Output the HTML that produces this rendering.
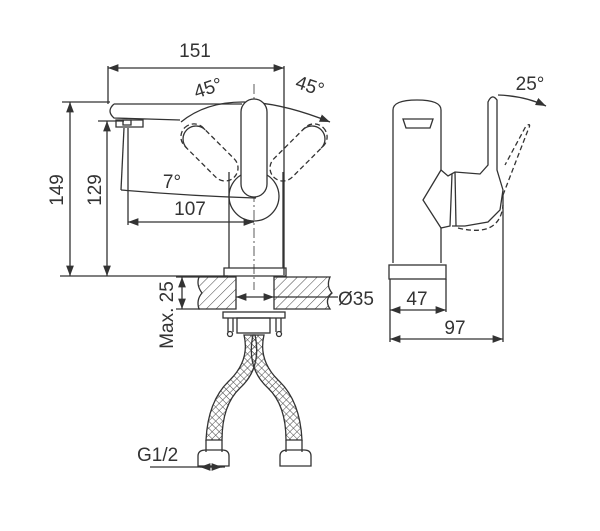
<!DOCTYPE html>
<html><head><style>
html,body{margin:0;padding:0;background:#fff;width:600px;height:531px;overflow:hidden}
svg text{font-family:"Liberation Sans",sans-serif;fill:#333}
</style></head><body>
<svg width="600" height="531" viewBox="0 0 600 531" xmlns="http://www.w3.org/2000/svg">
<defs>
<pattern id="h" width="7" height="7" patternUnits="userSpaceOnUse" patternTransform="rotate(45)"><line x1="0" y1="0" x2="0" y2="7" stroke="#444" stroke-width="1"/></pattern>
<pattern id="x" width="5" height="5" patternUnits="userSpaceOnUse" patternTransform="rotate(45)"><path d="M0 0H5M0 0V5" stroke="#444" stroke-width="1"/></pattern>
<marker id="a" markerWidth="8" markerHeight="6" refX="8" refY="3" orient="auto-start-reverse"><path d="M0 0L8 3L0 6" fill="#333"/></marker>
</defs>
<g fill="none" stroke="#333" stroke-width="1.3">
<line x1="108" y1="68" x2="284" y2="68" marker-start="url(#a)" marker-end="url(#a)"/>
<line x1="108" y1="66" x2="108" y2="104"/><line x1="284" y1="66" x2="284" y2="275"/>
<line x1="62" y1="102" x2="110" y2="102"/><line x1="60" y1="276" x2="228" y2="276"/>
<line x1="70" y1="102" x2="70" y2="276" marker-start="url(#a)" marker-end="url(#a)"/>
<line x1="98" y1="121" x2="124" y2="121"/>
<line x1="107" y1="121" x2="107" y2="276" marker-start="url(#a)" marker-end="url(#a)"/>
<line x1="128" y1="128" x2="128" y2="225"/>
<line x1="128" y1="222" x2="254" y2="222" marker-start="url(#a)" marker-end="url(#a)"/>
<line x1="124" y1="128" x2="121" y2="190"/>
<path d="M121 190 Q190 196 256 198"/>
<line x1="254" y1="84" x2="254" y2="290" stroke-dasharray="10 3 2 3" stroke-width="0.8"/>
<path d="M181 122 Q230 82 330 122" marker-end="url(#a)"/>
<path d="M114 104 H242 M114 104 Q106 111 114 118 L180 120 M116 120 H143 V127 H116Z"/>
<path d="M123 120 h8 v5 h-8z"/>
<rect x="241" y="99" width="26" height="98" rx="13" fill="#fff"/>
<g transform="rotate(-45 254 197)"><rect x="241" y="99" width="26" height="70" rx="13" stroke-dasharray="5 3"/><path d="M241 115 A13 13 0 0 1 267 115"/></g>
<g transform="rotate(45 254 197)"><rect x="241" y="99" width="26" height="70" rx="13" stroke-dasharray="5 3"/><path d="M241 115 A13 13 0 0 1 267 115"/></g>
<path d="M229 196 A25 25 0 1 0 279 196 A25 25 0 0 0 267 175 M241 175 A25 25 0 0 0 229 196"/>
<path d="M229 172 V268 M283 172 V268 M224 268 H286 V276 H224Z"/>
<path d="M199 277 H236 V309 H199 Q196 300 202 293 Q196 285 199 277Z" fill="url(#h)"/>
<path d="M274 277 H330 Q326 286 332 293 Q324 300 330 309 H274Z" fill="url(#h)"/>
<line x1="176" y1="277" x2="200" y2="277"/><line x1="176" y1="309" x2="200" y2="309"/>
<line x1="182" y1="277" x2="182" y2="309" marker-start="url(#a)" marker-end="url(#a)"/>
<line x1="236" y1="297" x2="274" y2="297" marker-start="url(#a)" marker-end="url(#a)"/>
<line x1="274" y1="297" x2="338" y2="297"/>
<rect x="223" y="312" width="62" height="6"/>
<rect x="237" y="318" width="33" height="15"/>
<path d="M228 318 V332 M233 318 V332 M276 318 V332 M281 318 V332"/>
<circle cx="230" cy="334" r="2.5"/><circle cx="279" cy="334" r="2.5"/>
<path d="M244 335 Q250 360 230 380 Q208 400 206 440 L222 440 Q222 405 240 388 Q262 368 255 335Z" fill="url(#x)"/>
<path d="M264 335 Q258 360 278 380 Q300 400 302 440 L286 440 Q286 405 268 388 Q246 368 253 335Z" fill="url(#x)"/>
<path d="M206 440 V452 M222 440 V452 M286 440 V452 M302 440 V452"/>
<path d="M198 456 Q198 450 206 450 H222 Q229 450 229 456 V466 H198Z"/>
<path d="M280 456 Q280 450 288 450 H304 Q311 450 311 456 V466 H280Z"/>
<line x1="150" y1="467" x2="225" y2="467"/>
<line x1="200" y1="467" x2="222" y2="467" marker-start="url(#a)" marker-end="url(#a)"/>
<path d="M393 263 V110 Q393 100 417 100 Q441 100 441 110 V170 M441 228 V263"/>
<path d="M403 119 H433 L430 128 H406Z"/>
<rect x="389" y="265" width="57" height="14"/>
<path d="M441 170 L448 176 L455 172 L480 174 L488 165 V102 Q492 93 497 100 V170 L503 190 L500 210 L488 222 L465 226 L452 226"/>
<path d="M441 170 L423 200 L441 228 L450 226 L452 174"/>
<path d="M455 172 L456 226"/>
<g stroke-dasharray="5 3"><path d="M503 195 L528 130 Q532 122 526 126 L505 165 M458 228 Q500 238 503 205"/></g>
<path d="M498 95 Q525 96 546 106" marker-end="url(#a)"/>
<line x1="503" y1="195" x2="503" y2="342"/>
<line x1="390" y1="279" x2="390" y2="342"/>
<line x1="446" y1="279" x2="446" y2="312"/>
<line x1="390" y1="310" x2="446" y2="310" marker-start="url(#a)" marker-end="url(#a)"/>
<line x1="390" y1="339" x2="503" y2="339" marker-start="url(#a)" marker-end="url(#a)"/>
</g>
<g font-size="19">
<text x="195" y="57" text-anchor="middle">151</text>
<text x="210" y="94" text-anchor="middle" transform="rotate(-18 210 94)">45°</text>
<text x="308" y="92" text-anchor="middle" transform="rotate(18 308 92)">45°</text>
<text x="172" y="188" text-anchor="middle">7°</text>
<text x="190" y="215" text-anchor="middle">107</text>
<text x="63" y="190" text-anchor="middle" transform="rotate(-90 63 190)">149</text>
<text x="101" y="190" text-anchor="middle" transform="rotate(-90 101 190)">129</text>
<text x="173" y="315" text-anchor="middle" transform="rotate(-90 173 315)">Max. 25</text>
<text x="338" y="305">Ø35</text>
<text x="137" y="461">G1/2</text>
<text x="530" y="90" text-anchor="middle">25°</text>
<text x="417" y="305" text-anchor="middle">47</text>
<text x="455" y="334" text-anchor="middle">97</text>
</g>
</svg>
</body></html>
